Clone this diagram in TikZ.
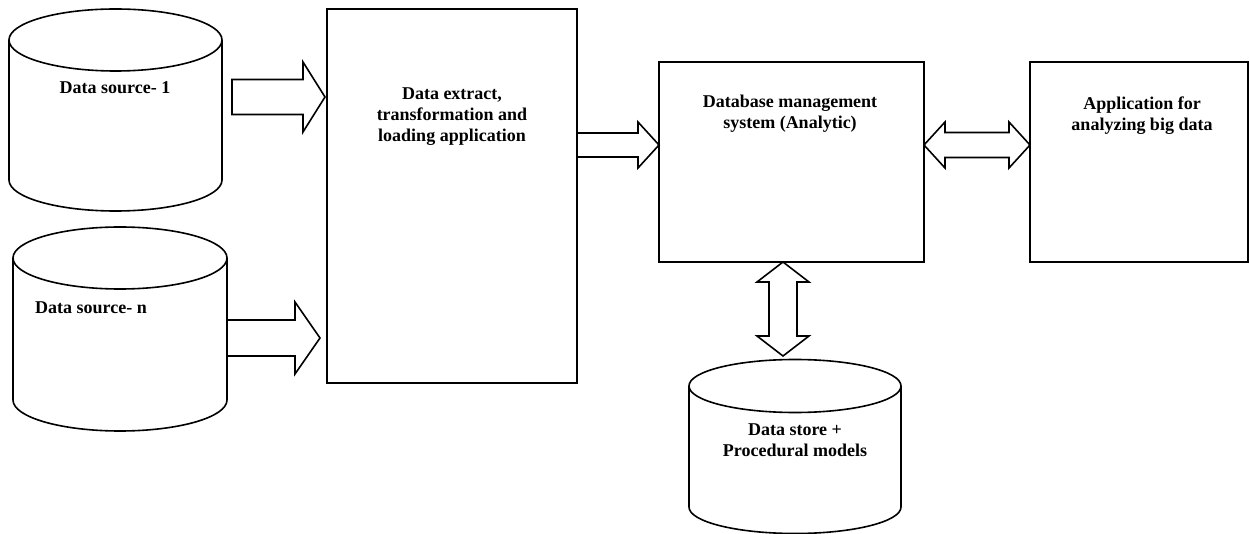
\documentclass[tikz,border=0pt]{standalone}
\usepackage{fontspec}
\setmainfont{Liberation Serif}
\usetikzlibrary{calc, positioning}
\tikzset{
    edge/.style={
        line width=1.6pt, line join=miter
    },
    boxnode/.style={
        draw, edge, inner sep=0pt, outer sep=0pt
    },
    cylbody/.style={
        inner sep=0pt, outer sep=0pt
    },
    txtnode/.style={
        font=\fontsize{18pt}{21pt}\selectfont\bfseries, align=center, inner sep=0pt
    },
    blockarrow/.style={
        draw, edge, fill=white
    }
}
% cylinder drawn round an empty body node
\newcommand{\drawcyl}[3]{%
    \draw[edge] (#1.north west) -- (#1.south west)
        arc[start angle=180, end angle=360, x radius=#2, y radius=#3] -- (#1.north east);
    \draw[edge] (#1.north) ellipse[x radius=#2, y radius=#3];
}
% hollow arrow: tail, tip, head length, half shaft, half head
\newcommand{\onearrow}[5]{%
    \coordinate (hb) at ($(#2)!#3!(#1)$);
    \draw[blockarrow] ($(#1)!#4!90:(#2)$) -- ($(hb)!#4!-90:(#1)$) -- ($(hb)!#5!-90:(#1)$)
        -- (#2) -- ($(hb)!#5!90:(#1)$) -- ($(hb)!#4!90:(#1)$) -- ($(#1)!#4!-90:(#2)$) -- cycle;
}
% hollow arrow with two heads: tip, tip, head length, half shaft, half head
\newcommand{\twoarrow}[5]{%
    \coordinate (ha) at ($(#1)!#3!(#2)$);
    \coordinate (hb) at ($(#2)!#3!(#1)$);
    \draw[blockarrow] (#1) -- ($(ha)!#5!90:(#2)$) -- ($(ha)!#4!90:(#2)$) -- ($(hb)!#4!-90:(#1)$)
        -- ($(hb)!#5!-90:(#1)$) -- (#2) -- ($(hb)!#5!90:(#1)$) -- ($(hb)!#4!90:(#1)$)
        -- ($(ha)!#4!-90:(#2)$) -- ($(ha)!#5!-90:(#2)$) -- cycle;
}

\begin{document}
\begin{tikzpicture}[x=1pt, y=-1pt]
    \useasboundingbox (0,0) rectangle (1250,534);

    % sources
    \node[cylbody, minimum width=213pt, minimum height=140pt] (src1) at (115.5,110) {};
    \drawcyl{src1}{106.5pt}{31pt}
    \node[txtnode] (src1txt) at (115,88) {Data source- 1};

    \node[cylbody, minimum width=214pt, minimum height=142pt] (srcn) at (120,329) {};
    \drawcyl{srcn}{107pt}{31pt}
    \node[txtnode] (srcntxt) at (91,308) {Data source- n};

    % boxes
    \node[boxnode, minimum width=250pt, minimum height=374pt] (etl) at (452,196) {};
    \node[txtnode] (etltxt) at (452,117) {Data extract,\\transformation and\\loading application};

    \node[boxnode, minimum width=265pt, minimum height=200pt] (dbms) at (791.5,162) {};
    \node[txtnode] (dbmstxt) at (790,114) {Database management\\system (Analytic)};

    \node[boxnode, minimum width=218pt, minimum height=200pt] (app) at (1139,162) {};
    \node[txtnode] (apptxt) at (1142,116) {Application for\\analyzing big data};

    % store
    \node[cylbody, minimum width=212pt, minimum height=121pt] (store) at (795,446.5) {};
    \drawcyl{store}{106pt}{26.5pt}
    \node[txtnode] (storetxt) at (795,440.5) {Data store +\\Procedural models};

    % arrows
    \coordinate (a1t) at ([xshift=10pt, yshift=13pt]src1.east);
    \coordinate (a1h) at ($(etl.west |- a1t)+(-2,0)$);
    \onearrow{a1t}{a1h}{22pt}{17.5pt}{35pt}

    \coordinate (a2t) at ([yshift=-9pt]srcn.east);
    \coordinate (a2h) at ($(etl.west |- a2t)+(-7,0)$);
    \onearrow{a2t}{a2h}{25pt}{18pt}{36pt}

    \coordinate (a3h) at ([yshift=17pt]dbms.west);
    \coordinate (a3t) at (etl.east |- a3h);
    \onearrow{a3t}{a3h}{21pt}{12pt}{23pt}

    \coordinate (d1) at (dbms.east |- a3h);
    \coordinate (d2) at (app.west |- a3h);
    \twoarrow{d1}{d2}{21pt}{12.5pt}{23pt}

    \coordinate (v1) at ([xshift=-8.5pt]dbms.south);
    \coordinate (st) at ([yshift=30pt]store.north);
    \coordinate (v2) at (v1 |- st);
    \twoarrow{v1}{v2}{20pt}{14pt}{26pt}
\end{tikzpicture}
\end{document}
